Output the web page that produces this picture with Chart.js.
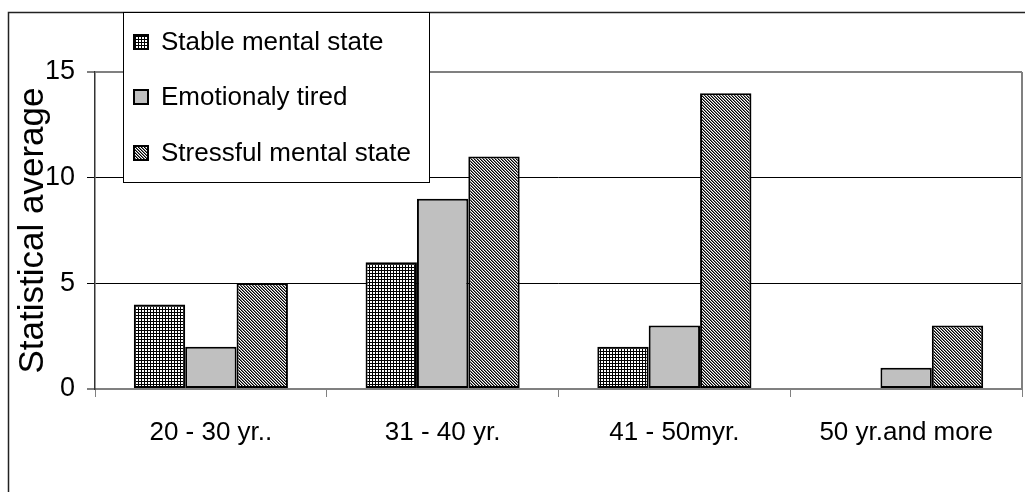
<!DOCTYPE html>
<html>
<head>
<meta charset="utf-8">
<script src="https://cdn.jsdelivr.net/npm/chart.js@4.4.0/dist/chart.umd.min.js"></script>
<style>
    html, body { margin: 0; padding: 0; background: #fff; }
    #wrap { width: 1025px; height: 492px; }
</style>
</head>
<body>
<div id="wrap"><canvas id="chart" width="1025" height="492"></canvas></div>
<script>
// Chart data
const categories = ['20 - 30 yr..', '31 - 40 yr.', '41 - 50myr.', '50 yr.and more'];
const seriesLabels = ['Stable mental state', 'Emotionaly tired', 'Stressful mental state'];
const stableValues = [4, 6, 2, 0];
const tiredValues = [2, 9, 3, 1];
const stressValues = [5, 11, 14, 3];
const yTicks = [0, 5, 10, 15];

const FONT = "'Liberation Sans', Arial, sans-serif";

// Fill patterns (Excel style hatching)
function makePattern(size, shadeAt) {
    const cv = document.createElement('canvas');
    cv.width = size;
    cv.height = size;
    const c = cv.getContext('2d');
    c.fillStyle = '#fff';
    c.fillRect(0, 0, size, size);
    for (let y = 0; y < size; y++) {
        for (let x = 0; x < size; x++) {
            const col = shadeAt(x, y);
            if (col) {
                c.fillStyle = col;
                c.fillRect(x, y, 1, 1);
            }
        }
    }
    return c.createPattern(cv, 'repeat');
}

const ctx = document.getElementById('chart').getContext('2d');
const gridFill = makePattern(3, (x, y) => (x === 0 || y === 0) ? '#000' : null);
const diagFill = makePattern(3, (x, y) => {
    const k = (x - y + 3) % 3;
    return k === 0 ? '#000' : (k === 1 ? '#777' : null);
});

const noZeroBorder = (c) => (c.raw === 0 ? 0 : 2);

// Outer frame, plot border and boxed legend
const framePlugin = {
    id: 'frame',
    beforeDraw(chart) {
        const c = chart.ctx;
        c.save();
        c.fillStyle = '#fff';
        c.fillRect(0, 0, chart.width, chart.height);
        c.strokeStyle = '#222';
        c.lineWidth = 1.5;
        c.beginPath();
        c.moveTo(8.5, chart.height);
        c.lineTo(8.5, 12.5);
        c.lineTo(chart.width, 12.5);
        c.stroke();
        c.restore();
    },
    afterDatasetsDraw(chart) {
        const a = chart.chartArea;
        const c = chart.ctx;
        c.save();
        c.strokeStyle = '#808080';
        c.lineWidth = 2;
        c.beginPath();
        c.moveTo(a.right, a.top);
        c.lineTo(a.right, a.bottom);
        c.stroke();
        c.restore();
    },
    afterDraw(chart) {
        const c = chart.ctx;
        const box = { x: 123.5, y: 12.5, w: 306, h: 170 };
        const rows = [42, 97, 153];
        c.save();
        c.fillStyle = '#fff';
        c.fillRect(box.x, box.y, box.w, box.h);
        c.strokeStyle = '#000';
        c.lineWidth = 1;
        c.strokeRect(box.x, box.y, box.w, box.h);
        c.font = '26px ' + FONT;
        c.textBaseline = 'middle';
        chart.data.datasets.forEach((ds, i) => {
            const y = rows[i];
            c.fillStyle = ds.backgroundColor;
            c.fillRect(133, y - 8, 16, 16);
            c.lineWidth = 2;
            c.strokeStyle = '#000';
            c.strokeRect(134, y - 7, 14, 14);
            c.fillStyle = '#000';
            c.fillText(ds.label, 161, y + 1);
        });
        c.restore();
    }
};

new Chart(ctx, {
    type: 'bar',
    data: {
        labels: categories,
        datasets: [
            { label: seriesLabels[0], data: stableValues, backgroundColor: gridFill, borderColor: '#000', borderWidth: noZeroBorder, borderSkipped: false },
            { label: seriesLabels[1], data: tiredValues, backgroundColor: '#c0c0c0', borderColor: '#000', borderWidth: noZeroBorder, borderSkipped: false },
            { label: seriesLabels[2], data: stressValues, backgroundColor: diagFill, borderColor: '#000', borderWidth: noZeroBorder, borderSkipped: false }
        ]
    },
    options: {
        responsive: false,
        animation: false,
        devicePixelRatio: 1,
        categoryPercentage: 0.665,
        barPercentage: 1,
        layout: { padding: { top: 72, right: 3, left: 0, bottom: 0 } },
        plugins: {
            legend: { display: false },
            tooltip: { enabled: false }
        },
        scales: {
            x: {
                afterFit: (s) => { s.height = 103; },
                grid: {
                    offset: true,
                    drawOnChartArea: false,
                    drawTicks: true,
                    tickLength: 8,
                    color: '#808080'
                },
                border: { color: '#808080', width: 2 },
                ticks: {
                    color: '#000',
                    padding: 20,
                    maxRotation: 0,
                    font: { family: FONT, size: 26 }
                }
            },
            y: {
                min: 0,
                max: 15,
                afterFit: (s) => { s.width = 95; },
                afterBuildTicks: (s) => { s.ticks = yTicks.map(v => ({ value: v })); },
                grid: {
                    tickLength: 8,
                    color: (c) => (c.tick && (c.tick.value === 0 || c.tick.value === 15)) ? '#808080' : '#000',
                    lineWidth: (c) => (c.tick && (c.tick.value === 0 || c.tick.value === 15)) ? 2 : 1
                },
                border: { color: '#333', width: 1.5 },
                ticks: {
                    color: '#000',
                    padding: 12,
                    font: { family: FONT, size: 27 }
                },
                title: {
                    display: true,
                    text: 'Statistical average',
                    color: '#000',
                    padding: { top: 12, bottom: 0 },
                    font: { family: FONT, size: 35, lineHeight: 1.2 }
                }
            }
        }
    },
    plugins: [framePlugin]
});
</script>
</body>
</html>
